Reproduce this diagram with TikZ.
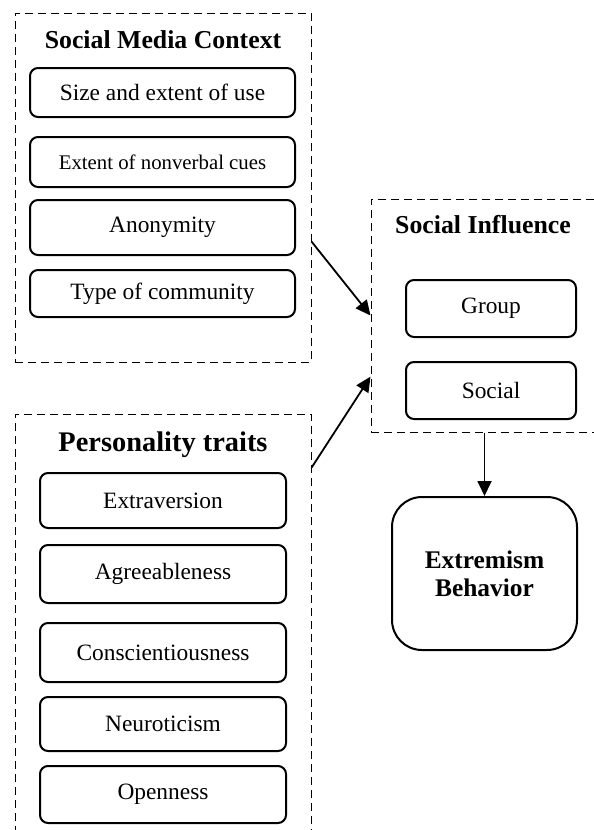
\documentclass[tikz,border=0pt]{standalone}
\usepackage{fontspec}
\setmainfont{Liberation Serif}
\usetikzlibrary{arrows.meta}

\begin{document}
\begin{tikzpicture}[x=0.5pt, y=-0.5pt,
        itembox/.style={draw, line width=1pt, rounded corners=4pt, inner sep=0pt, align=center, font=\fontsize{11.7}{14}\selectfont},
        framebox/.style={draw, line width=0.5pt, dash pattern=on 4pt off 2.5pt, inner sep=0pt},
        heading/.style={inner sep=0pt, anchor=base, font=\fontsize{12.9}{15}\selectfont\bfseries},
        link/.style={line width=0.9pt, -{Triangle[length=7.5pt, width=7pt]}}]
        % Marco del dibujo
        \useasboundingbox (0,0) rectangle (594,830);
        \clip (0,0) rectangle (594,830);

        % Grupos punteados
        \node[framebox, minimum width=148pt, minimum height=174.5pt] (smc) at (163,187.5) {};
        \node[framebox, minimum width=114.5pt, minimum height=116.5pt] (si) at (485.5,315.5) {};
        \node[framebox, minimum width=148pt, minimum height=213pt] (pt) at (163,627) {};

        % Titulos
        \node[heading] (smctitle) at (163,48) {Social Media Context};
        \node[heading] (sititle) at (483,233) {Social Influence};
        \node[heading, font=\fontsize{14.2}{17}\selectfont\bfseries] (pttitle) at (163,451) {Personality traits};

        % Contexto de redes sociales
        \node[itembox, minimum width=132.5pt, minimum height=24.5pt] (size) at (162.5,92.5) {Size and extent of use};
        \node[itembox, minimum width=132.5pt, minimum height=25pt, font=\fontsize{10.4}{12}\selectfont] (cues) at (162.5,162) {Extent of nonverbal cues};
        \node[itembox, minimum width=132.5pt, minimum height=27.5pt] (anon) at (162.5,227.5) {Anonymity};
        \node[itembox, minimum width=132.5pt, minimum height=23.5pt] (type) at (162.5,293.5) {Type of community};

        % Influencia social
        \node[itembox, minimum width=85pt, minimum height=28.5pt] (group) at (491,308.5) {Group};
        \node[itembox, minimum width=85pt, minimum height=28.5pt] (social) at (491,390.5) {Social};

        % Rasgos de personalidad
        \node[itembox, minimum width=123pt, minimum height=27.5pt] (extra) at (163,500.5) {Extraversion};
        \node[itembox, minimum width=123pt, minimum height=29pt] (agree) at (163,574) {Agreeableness};
        \node[itembox, minimum width=123pt, minimum height=29.5pt] (consc) at (163,652.5) {Conscientiousness};
        \node[itembox, minimum width=123pt, minimum height=27pt] (neuro) at (163,724) {Neuroticism};
        \node[itembox, minimum width=123pt, minimum height=28.5pt] (open) at (163,794.5) {Openness};

        % Resultado
        \node[itembox, rounded corners=15pt, minimum width=92.5pt, minimum height=76.5pt, font=\fontsize{12.7}{14}\selectfont\bfseries] (ext) at (484.5,573.5) {Extremism\\Behavior};

        % Flechas
        \draw[link] (smc.-20.6) -- (si.west);
        \draw[link] (pt.47.9) -- (si.208);
        \draw[link] (si.south -| ext.north) -- (ext.north);
    \end{tikzpicture}
\end{document}
